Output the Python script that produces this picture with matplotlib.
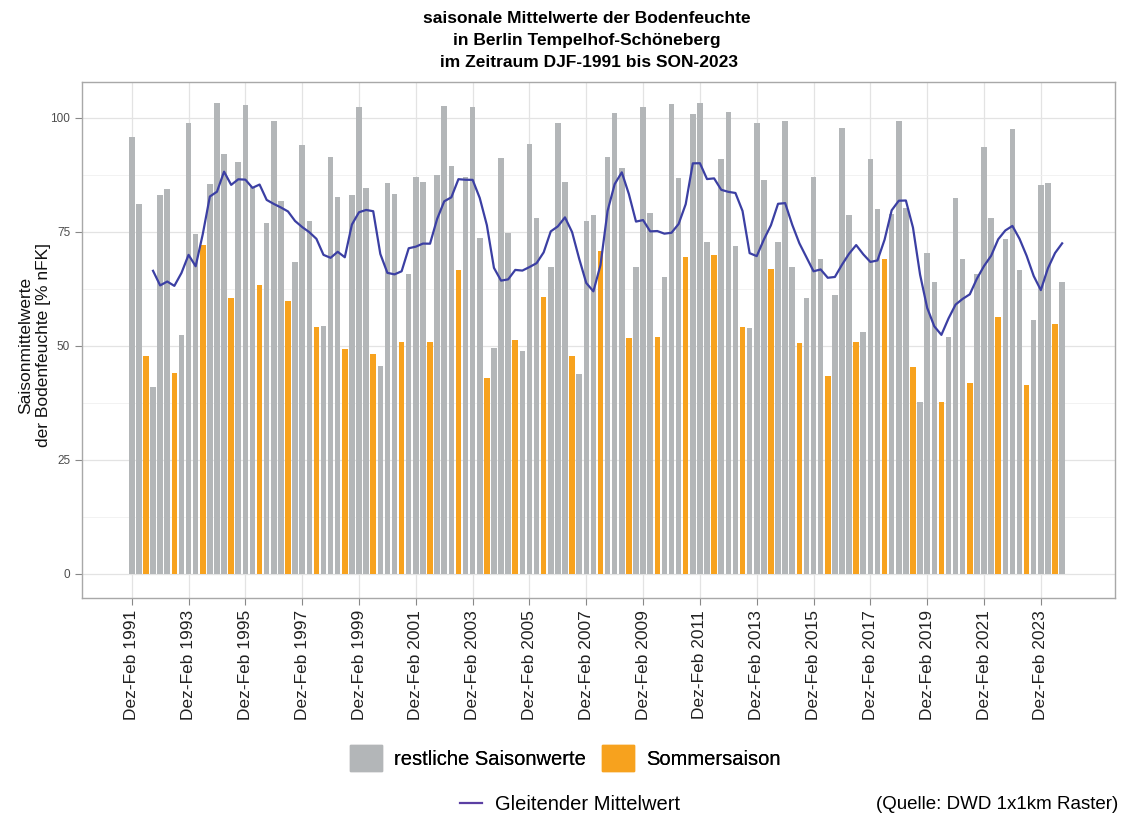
import numpy as np
import pandas as pd
import matplotlib
matplotlib.use("Agg")
import matplotlib.pyplot as plt
from matplotlib.patches import Patch
from matplotlib.lines import Line2D

# Saisonmittel der Bodenfeuchte [% nFK], je Jahr 1991-2023
jahre = list(range(1991, 2024))
djf = [95.9, 83.1, 99.0, 103.2, 102.9, 99.4, 94.1, 91.5, 102.3, 85.7, 87.1,
       102.6, 102.5, 91.3, 94.4, 98.8, 77.5, 101.0, 102.3, 103.1, 103.2, 101.4,
       98.8, 99.4, 87.0, 97.7, 91.0, 99.4, 70.3, 82.5, 93.6, 97.6, 85.3]
mam = [81.1, 84.5, 74.5, 92.1, 84.9, 81.8, 77.3, 82.6, 84.6, 83.3, 86.0,
       89.5, 73.6, 74.7, 78.1, 86.0, 78.7, 89.0, 79.1, 86.8, 72.9, 71.9,
       86.4, 67.4, 69.0, 78.7, 80.0, 80.2, 64.0, 69.0, 78.0, 66.7, 85.8]
jja = [47.8, 44.0, 72.1, 60.5, 63.4, 59.9, 54.1, 49.3, 48.2, 50.9, 50.8,
       66.7, 42.9, 51.2, 60.7, 47.8, 70.8, 51.7, 52.0, 69.4, 70.0, 54.2,
       66.8, 50.6, 43.3, 50.9, 69.1, 45.3, 37.8, 41.8, 56.3, 41.4, 54.8]
son = [41.1, 52.4, 85.5, 90.4, 76.9, 68.5, 54.4, 83.1, 45.6, 65.8, 87.5,
       87.0, 49.5, 48.9, 67.3, 43.9, 91.5, 67.4, 65.1, 100.9, 90.9, 53.9,
       72.7, 60.5, 61.2, 53.1, 78.9, 37.6, 52.0, 65.7, 73.4, 55.6, 64.1]
saisons = ["DJF", "MAM", "JJA", "SON"]

# in zeitliche Reihenfolge bringen
werte = np.column_stack([djf, mam, jja, son]).ravel()
saison = np.tile(saisons, len(jahre))
pos = np.arange(len(werte))
gleitend = pd.Series(werte).rolling(4).mean()

GRAU = "#b3b6b8"
ORANGE = "#f7a21e"
BLAU = "#3b3fa3"

plt.rcParams["font.family"] = ["Liberation Sans", "DejaVu Sans"]

fig = plt.figure(figsize=(11.22, 8.18), dpi=100)
ax = fig.add_axes([0.0731, 0.2689, 0.9207, 0.6309])

farben = [ORANGE if s == "JJA" else GRAU for s in saison]
ax.bar(pos, werte, width=0.78, color=farben, zorder=2)
ax.plot(pos, gleitend, color=BLAU, lw=1.6, zorder=3)

ax.set_xlim(-7.0, 138.45)
ax.set_ylim(-5.3, 107.9)

xt = pos[::8]
ax.set_xticks(xt)
ax.set_xticklabels([f"Dez-Feb {j}" for j in jahre[::2]], rotation=90,
                   fontsize=12.5, color="#222222")
ax.set_yticks([0, 25, 50, 75, 100])
ax.set_yticklabels(["0", "25", "50", "75", "100"], fontsize=8.5, color="#4d4d4d")
ax.set_yticks([12.5, 37.5, 62.5, 87.5], minor=True)
ax.tick_params(axis="both", which="major", length=5, color="#888888", width=0.8)
ax.tick_params(axis="y", which="minor", length=0)

ax.grid(True, which="major", color="#e3e3e3", lw=0.9, zorder=0)
ax.grid(True, which="minor", axis="y", color="#f0f0f0", lw=0.6, zorder=0)
ax.set_axisbelow(True)
for sp in ax.spines.values():
    sp.set_color("#a8a8a8")
    sp.set_linewidth(1.0)

fig.text(0.031, 0.578, "Saisonmittelwerte\nder Bodenfeuchte [% nFK]",
         rotation=90, ha="center", va="center", fontsize=12.5,
         multialignment="center", color="#111111")

fig.text(0.523, 0.987,
         "saisonale Mittelwerte der Bodenfeuchte\nin Berlin Tempelhof-Schöneberg\n im Zeitraum DJF-1991 bis SON-2023",
         ha="center", va="top", fontsize=12.5, fontweight="bold",
         linespacing=1.6)

leg1 = fig.legend(handles=[Patch(color=GRAU, label="restliche Saisonwerte"),
                           Patch(color=ORANGE, label="Sommersaison")],
                  loc="center", bbox_to_anchor=(0.504, 0.073), ncol=2,
                  frameon=False, fontsize=14.5, handlelength=1.6,
                  handleheight=1.6, handletextpad=0.6, columnspacing=0.8)
leg2 = fig.legend(handles=[Line2D([], [], color="#5b3fa3", lw=1.6,
                                  label="Gleitender Mittelwert")],
                  loc="center", bbox_to_anchor=(0.508, 0.017),
                  frameon=False, fontsize=14.5, handlelength=1.1,
                  handletextpad=0.6)
fig.add_artist(leg1)

fig.text(0.997, 0.017, "(Quelle: DWD 1x1km Raster)", ha="right",
         va="center", fontsize=13.5)

fig.savefig("out.png", dpi=100)
